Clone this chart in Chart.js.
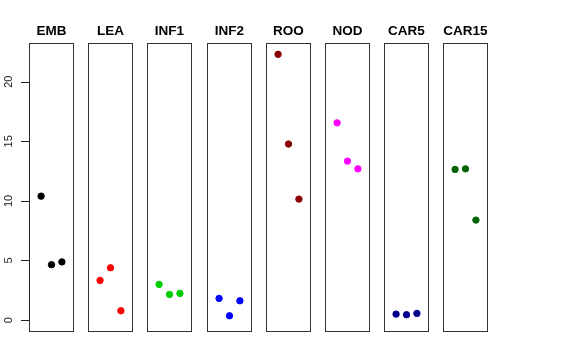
<!DOCTYPE html>
<html>
<head>
<meta charset="utf-8">
<script src="https://cdn.jsdelivr.net/npm/chart.js@4"></script>
<style>
  body { margin: 0; background: #fff; }
  #wrap { position: relative; width: 576px; height: 360px; background: #fff; overflow: hidden; }
  #wrap canvas { position: absolute; top: 0; }
</style>
</head>
<body>
<div id="wrap"></div>
<script>
// tissue panels and their colours
const panels = ['EMB', 'LEA', 'INF1', 'INF2', 'ROO', 'NOD', 'CAR5', 'CAR15'];
const colors = ['#000000', '#FF0000', '#00CD00', '#0000FF', '#8B0000', '#FF00FF', '#00008B', '#006400'];

// three replicates per panel
const positions = [1, 2, 3];
const emb   = [10.4, 4.65, 4.88];
const lea   = [3.33, 4.39, 0.78];
const inf1  = [2.99, 2.15, 2.24];
const inf2  = [1.82, 0.36, 1.62];
const roo   = [22.3, 14.77, 10.15];
const nod   = [16.55, 13.34, 12.69];
const car5  = [0.50, 0.45, 0.56];
const car15 = [12.64, 12.69, 8.39];
const series = [emb, lea, inf1, inf2, roo, nod, car5, car15];

const yTicks = [0, 5, 10, 15, 20];
const yMin = -1.0, yMax = 23.25;

// panel frame, plus the y tick marks on the panel that carries the axis
const boxPlugin = {
    id: 'box',
    afterDraw(chart) {
        const a = chart.chartArea;
        const ctx = chart.ctx;
        ctx.save();
        ctx.strokeStyle = '#333';
        ctx.lineWidth = 1;
        ctx.strokeRect(Math.round(a.left) + 0.5, Math.round(a.top) + 0.5,
            Math.round(a.right - a.left) - 1, Math.round(a.bottom - a.top) - 1);
        const y = chart.scales.y;
        if (y.options.display) {
            const x0 = Math.round(a.left);
            ctx.strokeStyle = '#222';
            ctx.beginPath();
            y.ticks.forEach(t => {
                const py = Math.round(y.getPixelForValue(t.value)) + 0.5;
                ctx.moveTo(x0 - 8, py);
                ctx.lineTo(x0 + 0.5, py);
            });
            // axis line from first to last tick
            ctx.moveTo(x0 + 0.5, Math.round(y.getPixelForValue(yTicks[0])) + 0.5);
            ctx.lineTo(x0 + 0.5, Math.round(y.getPixelForValue(yTicks[yTicks.length - 1])) + 0.5);
            ctx.stroke();
        }
        ctx.restore();
    }
};

const wrap = document.getElementById('wrap');

panels.forEach((name, i) => {
    const first = i === 0;
    const left = first ? 0 : Math.round(29 + i * 59.2);
    const width = first ? 74 : 45;

    let canvas = document.createElement('canvas');
    canvas.width = width;
    canvas.height = 360;
    canvas.style.left = left + 'px';
    canvas.style.width = width + 'px';
    canvas.style.height = '360px';
    wrap.appendChild(canvas);

    new Chart(canvas, {
        type: 'scatter',
        data: {
            datasets: [{
                label: name,
                data: positions.map((x, k) => ({ x: x, y: series[i][k] })),
                backgroundColor: colors[i],
                borderColor: colors[i],
                pointRadius: 3.2,
                pointHoverRadius: 3.2
            }]
        },
        options: {
            responsive: false,
            animation: false,
            layout: { autoPadding: false, padding: { top: 0, bottom: 28, left: 0, right: 0 } },
            plugins: {
                legend: { display: false },
                tooltip: { enabled: false },
                title: {
                    display: true,
                    text: name,
                    fullSize: false,
                    color: '#000',
                    font: { family: '"Liberation Sans", Arial, sans-serif', size: 13.5, weight: 'bold' },
                    padding: { top: 23.5, bottom: 3.3 }
                }
            },
            scales: {
                x: { type: 'linear', display: false, min: -0.16, max: 4.16 },
                y: {
                    display: first,
                    min: yMin,
                    max: yMax,
                    afterBuildTicks: s => { s.ticks = yTicks.map(v => ({ value: v })); },
                    afterFit: s => { if (first) s.width = 29; },
                    grid: { display: false, drawTicks: true, tickLength: 8 },
                    border: { display: false },
                    ticks: {
                        minRotation: 90,
                        maxRotation: 90,
                        crossAlign: 'center',
                        padding: 6,
                        color: '#222',
                        font: { family: '"Liberation Sans", Arial, sans-serif', size: 11 }
                    }
                }
            }
        },
        plugins: [boxPlugin]
    });
});
</script>
</body>
</html>
